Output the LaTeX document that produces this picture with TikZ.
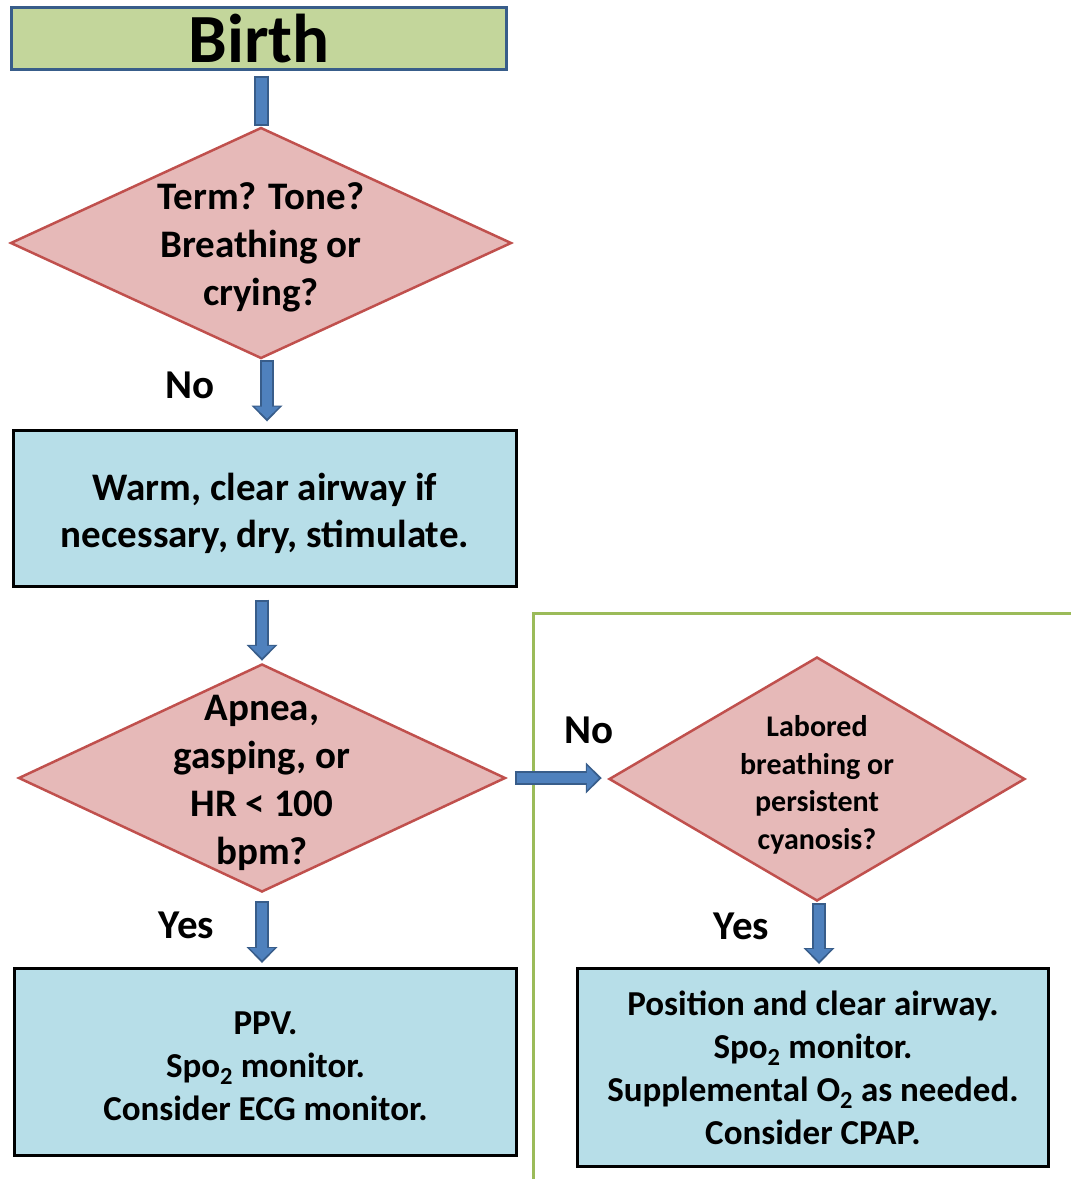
\documentclass[tikz,border=0pt]{standalone}
\usepackage{fontspec}
\setmainfont{Carlito}
\usepackage{tikz}
\usetikzlibrary{arrows.meta,positioning,shapes.geometric}
\definecolor{birthgreen}{HTML}{C3D69B}
\definecolor{edgeblue}{HTML}{385D8A}
\definecolor{arrowblue}{HTML}{4F81BD}
\definecolor{qpink}{HTML}{E6B9B8}
\definecolor{qred}{HTML}{C0504D}
\definecolor{boxblue}{HTML}{B7DEE8}
\definecolor{framegreen}{HTML}{9BBB59}
\newcommand{\lift}[1]{\rule{0pt}{#1}}
\begin{document}
\begin{tikzpicture}[x=1pt, y=-1pt,
start/.style={draw=edgeblue, line width=3pt, fill=birthgreen, minimum width=495pt, minimum height=62pt, inner sep=0pt, font=\fontsize{69}{69}\selectfont\bfseries},
box/.style={draw=black, line width=3pt, fill=boxblue, inner sep=0pt, align=center},
decision/.style={diamond, draw=qred, line width=2.5pt, fill=qpink, inner sep=0pt},
qtext/.style={align=center, inner sep=0pt},
lbl/.style={font=\fontsize{41}{41}\selectfont\bfseries, inner sep=0pt},
link/.style={draw=edgeblue, line width=15pt, postaction={draw=arrowblue, line width=11pt, shorten <=2pt, shorten >=2pt}},
arrow/.style={draw=edgeblue, line width=14pt, -{Triangle[width=31pt,length=16pt,line width=0pt]},
  postaction={draw=arrowblue, line width=10pt, shorten <=2pt, shorten >=3pt, -{Triangle[width=25pt,length=12pt,line width=0pt]}}},
frame/.style={draw=framegreen, line width=3pt}
]
\useasboundingbox (0,0) rectangle (1071,1179);
\draw[frame] (533,1179) -- (533,613) -- (1071,613);

\node[start] (birth) at (259,38.5) {Birth};
\node[decision, minimum width=501pt, minimum height=231pt,
  label={[qtext, yshift=-4pt, font=\fontsize{39}{48}\selectfont\bfseries]center:Term? Tone?\\Breathing or\\crying?}] (q1) at (261,243) {};
\node[box, minimum width=503pt, minimum height=156pt, font=\fontsize{39}{47}\selectfont\bfseries] (warm) at (265,508) {\lift{39pt}Warm, clear airway if\\necessary, dry, stimulate.};
\node[decision, minimum width=487pt, minimum height=228pt,
  label={[qtext, yshift=-5pt, font=\fontsize{39}{48}\selectfont\bfseries]center:Apnea,\\gasping, or\\HR < 100\\bpm?}] (q2) at (262,778) {};
\node[box, minimum width=502pt, minimum height=187pt, font=\fontsize{35}{43}\selectfont\bfseries] (ppv) at (265.5,1062) {\lift{31pt}PPV.\\Spo\textsubscript{2} monitor.\\Consider ECG monitor.};
\node[decision, minimum width=416pt, minimum height=244pt,
  label={[qtext, yshift=-6pt, font=\fontsize{30}{37.5}\selectfont\bfseries]center:Labored\\breathing or\\persistent\\cyanosis?}] (q3) at (817,779) {};
\node[box, minimum width=471pt, minimum height=198pt, font=\fontsize{35}{43}\selectfont\bfseries] (cpap) at (813,1067.5) {Position and clear airway.\\Spo\textsubscript{2} monitor.\\Supplemental O\textsubscript{2} as needed.\\Consider CPAP.};

\draw[link] ([xshift=2.5pt,yshift=-4.5pt]birth.south) -- ([xshift=0.5pt]q1.north);
\draw[arrow] ([xshift=6pt]q1.south) -- node[lbl, pos=0.42, left=45pt] {No} ([xshift=6pt,yshift=7pt]q1.south |- warm.north);
\draw[arrow] ([xshift=-3pt,yshift=-12pt]warm.south) -- ([yshift=2pt]q2.north);
\draw[arrow] ([yshift=-8pt]q2.south) -- node[lbl, pos=0.39, left=41pt] {Yes} ([yshift=4pt]q2.south |- ppv.north);
\draw[arrow] ([xshift=8pt]q2.east) -- node[lbl, pos=0.85, above=27pt] {No} ([xshift=-6pt]q2.east -| q3.west);
\draw[arrow] ([xshift=2pt,yshift=-1pt]q3.south) -- node[lbl, pos=0.38, left=43pt] {Yes} ([xshift=2pt,yshift=3pt]q3.south |- cpap.north);
\end{tikzpicture}
\end{document}
